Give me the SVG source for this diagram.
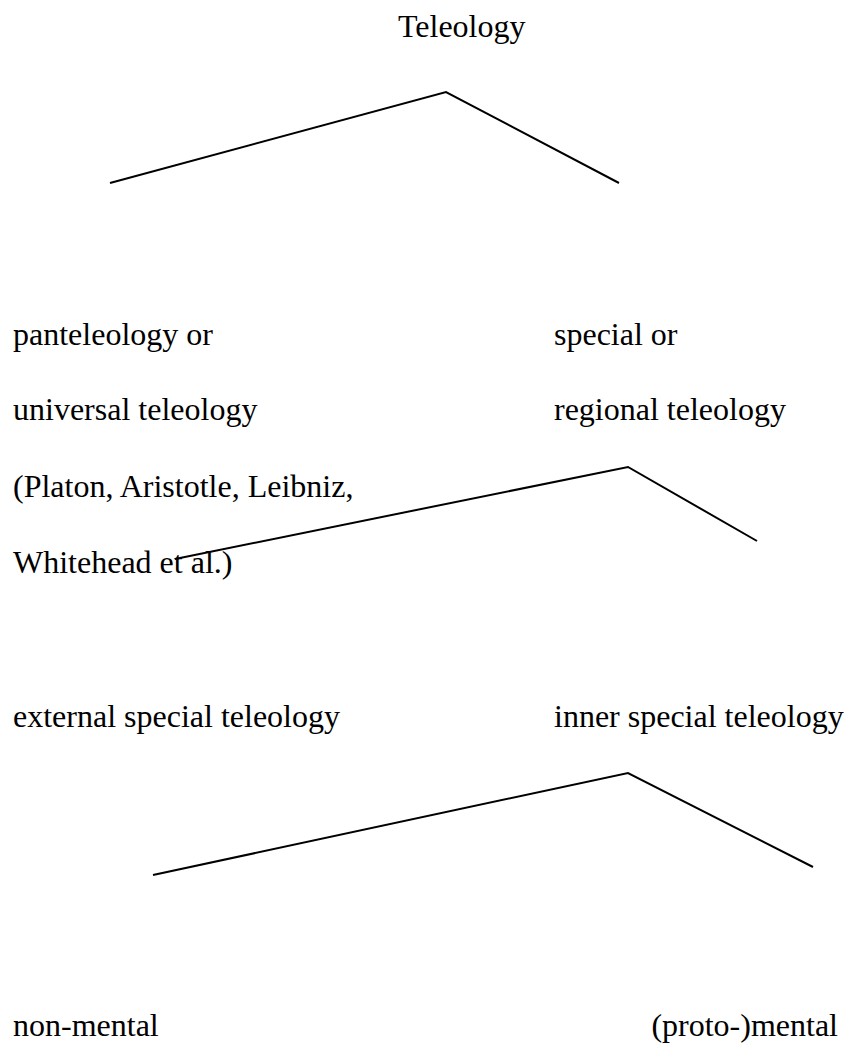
<svg xmlns="http://www.w3.org/2000/svg" width="848" height="1046" viewBox="0 0 848 1046">
  <style>
    text { font-family: "Liberation Serif", "Times New Roman", serif; font-size: 32px; fill: #000; }
    .branch { fill: none; stroke: #000; stroke-width: 2; stroke-linejoin: miter; }
  </style>
  <rect width="848" height="1046" fill="#fff"/>

  <!-- branching strokes of the classification tree -->
  <g id="connectors">
    <polyline class="branch" points="110,183 446,92 619,183"/>
    <polyline class="branch" points="175,559 628,467 757,541"/>
    <polyline class="branch" points="153,875 628,773 813,867"/>
  </g>

  <g id="teleology">
    <text x="398" y="37">Teleology</text>
  </g>

  <g id="universal">
    <text x="13" y="345">panteleology or</text>
    <text x="13" y="420">universal teleology</text>
    <text x="13" y="497">(Platon, Aristotle, Leibniz,</text>
    <text x="13" y="573">Whitehead et al.)</text>
  </g>

  <g id="special">
    <text x="554" y="345">special or</text>
    <text x="554" y="420">regional teleology</text>
  </g>

  <g id="external">
    <text x="13" y="727">external special teleology</text>
  </g>

  <g id="inner">
    <text x="554" y="727">inner special teleology</text>
  </g>

  <g id="non-mental">
    <text x="13" y="1036">non-mental</text>
  </g>

  <g id="proto-mental">
    <text x="838" y="1036" text-anchor="end">(proto-)mental</text>
  </g>
</svg>
